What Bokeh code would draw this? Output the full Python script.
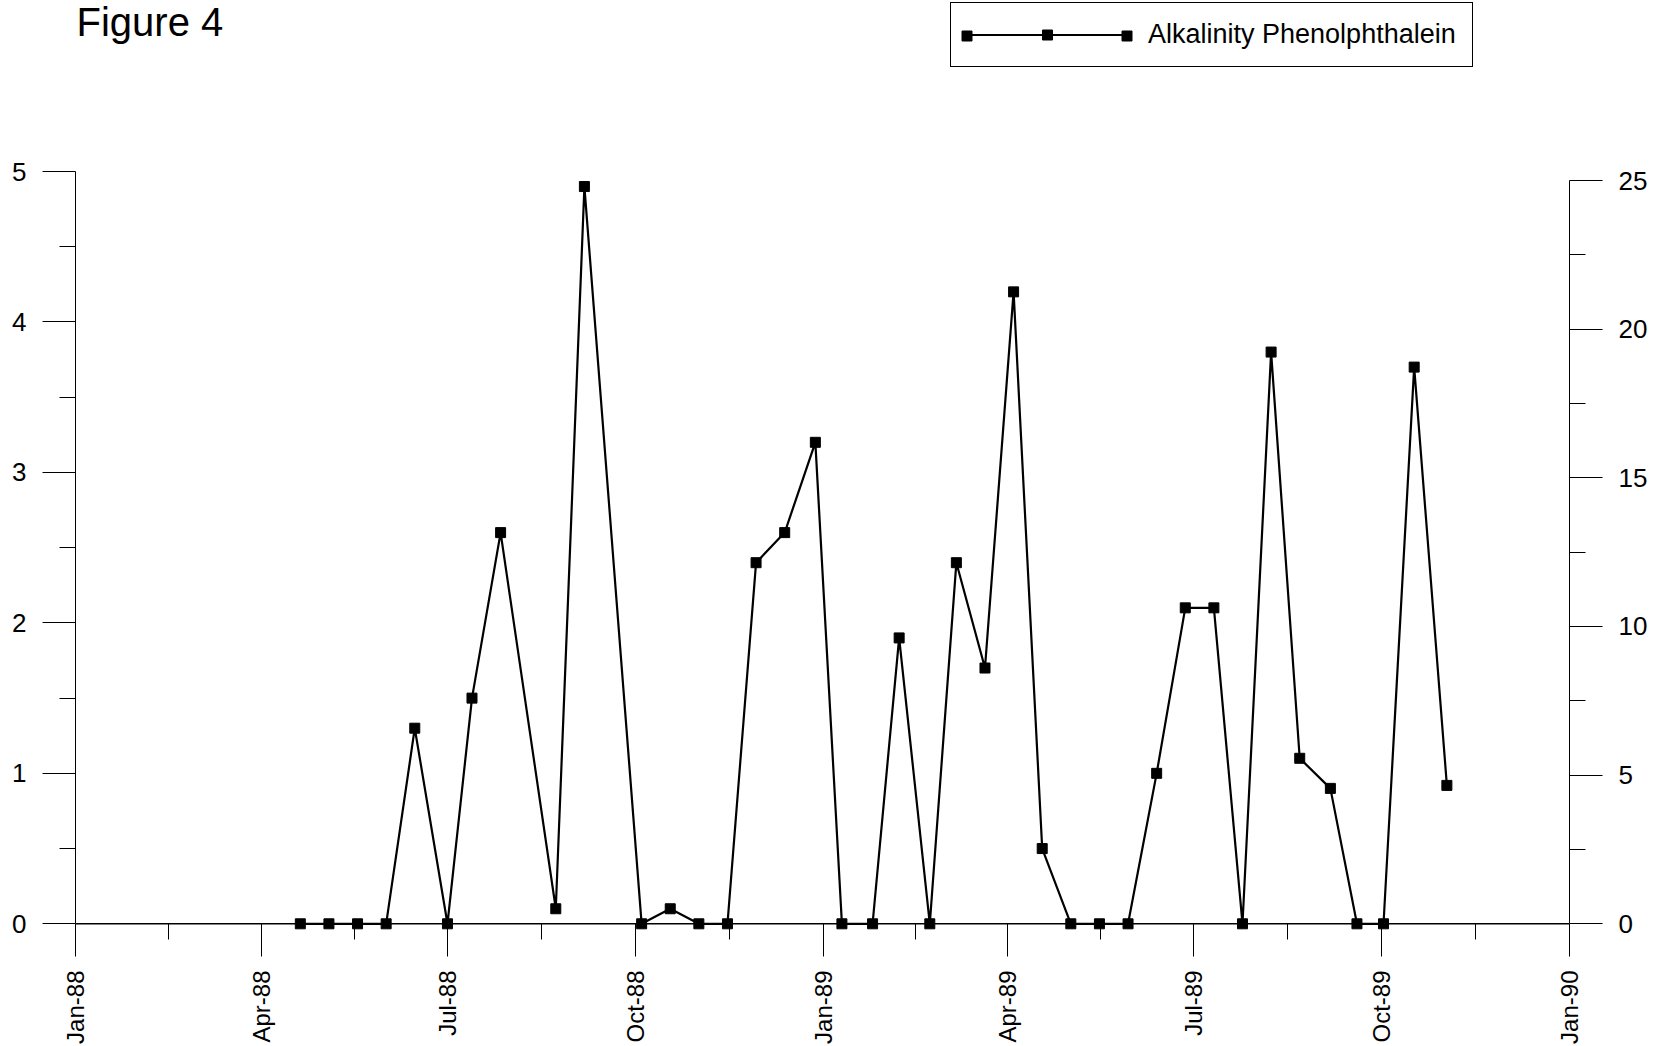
import numpy as np
from bokeh.plotting import figure
from bokeh.models import (Range1d, LinearAxis, FixedTicker, DatetimeTickFormatter, Span,
                          Label, Legend, LegendItem, ColumnDataSource)
from bokeh.embed import file_html
from bokeh.resources import INLINE

# ---------------- data ----------------
sample_dates = [
    "1988-04-20", "1988-05-04", "1988-05-18", "1988-06-01", "1988-06-15", "1988-07-01",
    "1988-07-13", "1988-07-27", "1988-08-23", "1988-09-06", "1988-10-04", "1988-10-18",
    "1988-11-01", "1988-11-15", "1988-11-29", "1988-12-13", "1988-12-28",
    "1989-01-10", "1989-01-25", "1989-02-07", "1989-02-22", "1989-03-07", "1989-03-21",
    "1989-04-04", "1989-04-18", "1989-05-02", "1989-05-16", "1989-05-30", "1989-06-13",
    "1989-06-27", "1989-07-11", "1989-07-25", "1989-08-08", "1989-08-22", "1989-09-06",
    "1989-09-19", "1989-10-02", "1989-10-17", "1989-11-02",
]
alkalinity_phenolphthalein = [
    0, 0, 0, 0, 1.3, 0, 1.5, 2.6, 0.1, 4.9, 0, 0.1, 0, 0, 2.4, 2.6, 3.2,
    0, 0, 1.9, 0, 2.4, 1.7, 4.2, 0.5, 0, 0, 0, 1.0, 2.1, 2.1, 0, 3.8, 1.1, 0.9,
    0, 0, 3.7, 0.92,
]
x_major_dates = ["1988-01-01", "1988-04-01", "1988-07-01", "1988-10-01", "1989-01-01",
                 "1989-04-01", "1989-07-01", "1989-10-01", "1990-01-01"]
left_ticks = [0, 1, 2, 3, 4, 5]
right_ticks = [0, 5, 10, 15, 20, 25]
series_label = "Alkalinity Phenolphthalein"
figure_title = "Figure 4"


def to_ms(s):
    return float((np.datetime64(s, "ms") - np.datetime64("1970-01-01", "ms")) / np.timedelta64(1, "ms"))


xs = [to_ms(d) for d in sample_dates]
x_major = [to_ms(d) for d in x_major_dates]
x_minor = [(a + b) / 2 for a, b in zip(x_major[:-1], x_major[1:])]
left_minor = [t + 0.5 for t in left_ticks[:-1]]
right_minor = [t + 2.5 for t in right_ticks[:-1]]

# ---------------- layout (page pixels; the page has no margin) ----------------
W, H = 1659, 1046
FRAME_L, FRAME_R = 75, 1569
FRAME_T, FRAME_B = 0, 935
ZERO_Y = 923.3
LEFT_TOP_Y = 171.0           # pixel of value 5 on left axis
RIGHT_TOP_Y = 180.0          # pixel of value 25 on right axis
lu = (ZERO_Y - LEFT_TOP_Y) / 5.0
ru = (ZERO_Y - RIGHT_TOP_Y) / 25.0

FONT = "Liberation Sans"
XTICK_FS = "24px"
YTICK_FS = "26px"

p = figure(width=W, height=H, x_axis_type="datetime", output_backend="svg",
           toolbar_location=None, min_border_left=FRAME_L,
           min_border_right=W - FRAME_R, min_border_top=FRAME_T,
           min_border_bottom=H - FRAME_B,
           x_range=Range1d(x_major[0], x_major[-1]),
           y_range=Range1d(-(FRAME_B - ZERO_Y) / lu, (ZERO_Y - FRAME_T) / lu))
p.outline_line_color = None
p.background_fill_color = "white"
p.border_fill_color = "white"
p.grid.visible = False
p.extra_y_ranges = {"right": Range1d(-(FRAME_B - ZERO_Y) / ru, (ZERO_Y - FRAME_T) / ru)}

# x axis (its line is the zero line; ticks hang from it)
gap = int(round(FRAME_B - ZERO_Y))
xa = p.xaxis[0]
xa.ticker = FixedTicker(ticks=x_major, minor_ticks=x_minor)
fmt = "%b-%y"
xa.formatter = DatetimeTickFormatter(milliseconds=fmt, seconds=fmt, minsec=fmt, minutes=fmt,
                                     hourmin=fmt, hours=fmt, days=fmt, months=fmt, years=fmt)
xa.axis_line_color = None
xa.major_tick_in = gap
xa.major_tick_out = 33 - gap
xa.minor_tick_in = gap
xa.minor_tick_out = 16 - gap
xa.major_tick_line_color = "black"
xa.minor_tick_line_color = "black"
xa.major_label_orientation = np.pi / 2
xa.major_label_standoff = 14
xa.major_label_text_font = FONT
xa.major_label_text_font_size = XTICK_FS
xa.major_label_text_color = "black"

# left axis
ya = p.yaxis[0]
ya.ticker = FixedTicker(ticks=left_ticks, minor_ticks=left_minor)
ya.bounds = (left_ticks[0], left_ticks[-1])
ya.major_tick_in = 0
ya.major_tick_out = 33
ya.minor_tick_in = 0
ya.minor_tick_out = 16
ya.axis_line_color = "black"
ya.major_tick_line_color = "black"
ya.minor_tick_line_color = "black"
ya.major_label_standoff = 16
ya.major_label_text_font = FONT
ya.major_label_text_font_size = YTICK_FS
ya.major_label_text_color = "black"

# right axis
ra = LinearAxis(y_range_name="right", ticker=FixedTicker(ticks=right_ticks, minor_ticks=right_minor),
                bounds=(right_ticks[0], right_ticks[-1]))
ra.major_tick_in = 0
ra.major_tick_out = 33
ra.minor_tick_in = 0
ra.minor_tick_out = 16
ra.axis_line_color = "black"
ra.major_tick_line_color = "black"
ra.minor_tick_line_color = "black"
ra.major_label_standoff = 16
ra.major_label_text_font = FONT
ra.major_label_text_font_size = YTICK_FS
ra.major_label_text_color = "black"
p.add_layout(ra, "right")

# zero line
p.add_layout(Span(location=0, dimension="width", line_color="black", line_width=1.5))

# data
src = ColumnDataSource(dict(x=xs, y=alkalinity_phenolphthalein))
line_r = p.line("x", "y", source=src, line_color="black", line_width=2.2)
pts_r = p.scatter("x", "y", source=src, marker="square", size=10, fill_color="black",
                  line_color="black")

# title (kept inside the plot area, where annotations are drawn)
p.add_layout(Label(x=1, y=FRAME_B - 37 + 16, x_units="screen", y_units="screen",
                   text=figure_title, text_font=FONT, text_font_size="40px",
                   text_color="black", text_baseline="alphabetic"))

# legend (line with a centre marker)
glyph_x0 = 966                   # left end of the legend sample line
leg_pad, leg_gh, leg_gw = 16, 25, 160
leg_bottom = 67
row_h = 31.5                     # height of a 27px label row
LEG_FS = "27px"
legend = Legend(items=[LegendItem(label=series_label, renderers=[line_r, pts_r])],
                location=(glyph_x0 - leg_pad - FRAME_L, FRAME_B - leg_bottom),
                padding=leg_pad, margin=0, spacing=0, glyph_width=leg_gw, glyph_height=leg_gh,
                label_height=leg_gh, label_standoff=21, label_text_font=FONT,
                label_text_font_size=LEG_FS, label_text_color="black",
                border_line_color="black", border_line_width=1, border_line_alpha=1,
                background_fill_color="white", background_fill_alpha=1)
p.add_layout(legend)

# the sample's end markers: two frameless keys of the same marker renderer
key_sz = 25                      # legend draws markers at 0.4 of this box -> 10 px
key_cy = leg_bottom - leg_pad - row_h / 2
for gx in (glyph_x0, glyph_x0 + leg_gw):
    p.add_layout(Legend(items=[LegendItem(label=" ", renderers=[pts_r])],
                        location=(gx - key_sz / 2 - FRAME_L, FRAME_B - (key_cy + key_sz / 2)),
                        padding=0, margin=0, spacing=0, glyph_width=key_sz,
                        glyph_height=key_sz, label_height=key_sz, label_width=0,
                        label_standoff=0, label_text_font_size="1px",
                        label_text_alpha=0, border_line_color=None,
                        background_fill_alpha=0))

open("out.html", "w").write(file_html(p, INLINE))
